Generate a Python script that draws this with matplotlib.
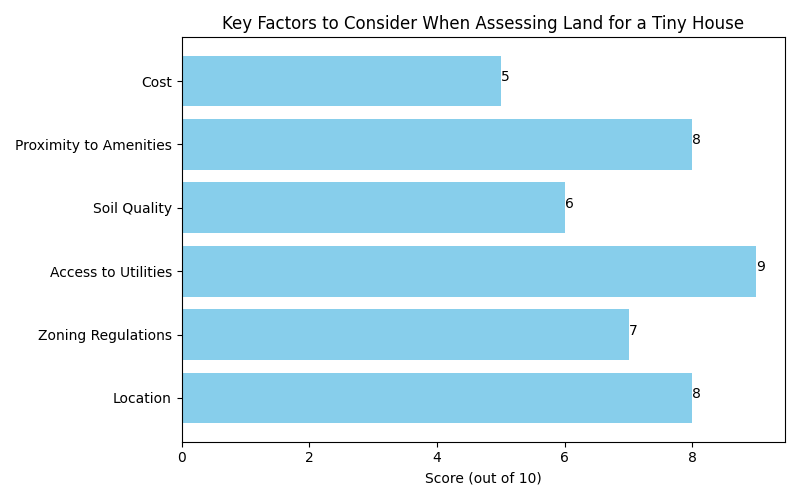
import matplotlib
matplotlib.use("Agg")
import matplotlib.pyplot as plt

factors = ["Location", "Zoning Regulations", "Access to Utilities", "Soil Quality",
           "Proximity to Amenities", "Cost"]
scores = [8, 7, 9, 6, 8, 5]

fig, ax = plt.subplots(figsize=(8, 5), dpi=100)
bars = ax.barh(factors, scores, color="skyblue")
for i, s in enumerate(scores):
    ax.text(s, i, str(s))
ax.set_xlabel("Score (out of 10)")
ax.set_title("Key Factors to Consider When Assessing Land for a Tiny House")
fig.tight_layout()
fig.savefig("out.png")
